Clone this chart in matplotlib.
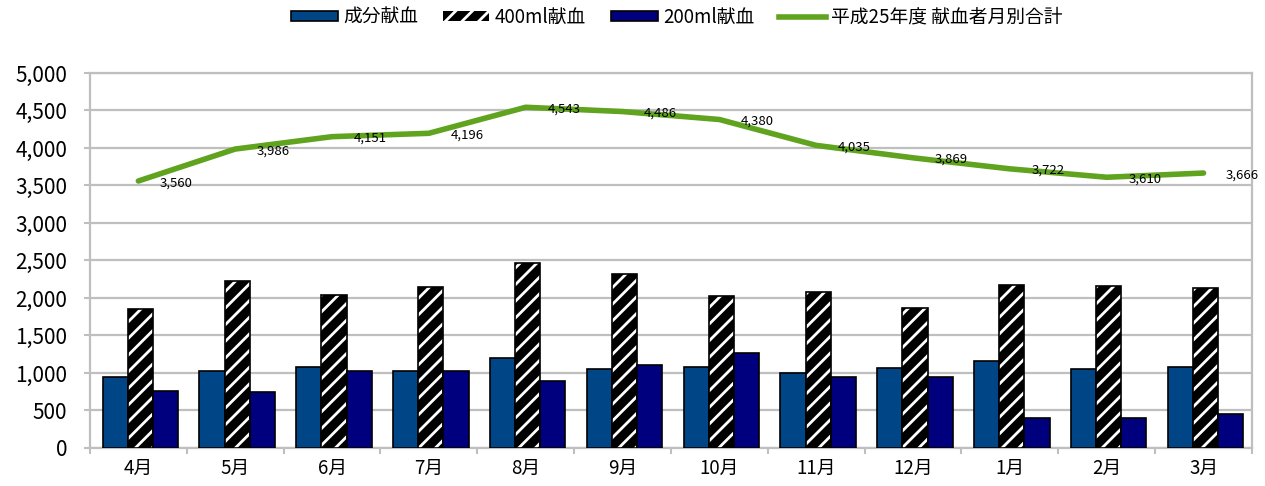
import numpy as np
from matplotlib import pyplot as plt
from matplotlib.patches import Patch
from matplotlib.lines import Line2D

plt.rcParams['font.family'] = ['Noto Sans CJK JP', 'DejaVu Sans']
plt.rcParams['hatch.linewidth'] = 2.0

# monthly blood donors (FY H25)
months = ['4月', '5月', '6月', '7月', '8月', '9月', '10月', '11月', '12月', '1月', '2月', '3月']
component = [947, 1026, 1079, 1026, 1195, 1053, 1079, 1000, 1062, 1159, 1053, 1079]
ml400 = [1847, 2220, 2045, 2144, 2460, 2325, 2032, 2085, 1860, 2167, 2160, 2134]
ml200 = [766, 740, 1027, 1026, 888, 1108, 1269, 950, 947, 396, 397, 453]
total = [3560, 3986, 4151, 4196, 4543, 4486, 4380, 4035, 3869, 3722, 3610, 3666]

c_comp = '#004585'
c_200 = '#00007f'
c_line = '#5fa31f'
c_grid = '#bfbfbf'

f = plt.figure(figsize=(12.65, 4.86), dpi=100)
ax = f.add_axes([0.0711, 0.0782, 0.9186, 0.7716])

x = np.arange(len(months))
w = 0.26
xc = x + 0.02  # groups sit a touch right of the category centre

ax.bar(xc - w, component, w, color=c_comp, edgecolor='black', linewidth=1.2, zorder=3)
# hatched 400ml bars: black fill with white stripes, then black outline on top
ax.bar(xc, ml400, w, color='black', edgecolor='white', hatch='//', linewidth=0, zorder=3)
ax.bar(xc, ml400, w, fill=False, edgecolor='black', linewidth=1.2, zorder=3)
ax.bar(xc + w, ml200, w, color=c_200, edgecolor='black', linewidth=1.2, zorder=3)

ax.plot(x, total, color=c_line, linewidth=4, solid_capstyle='round', zorder=4)
for xi, v in zip(x, total):
    ax.annotate(f'{v:,}', (xi, v), xytext=(27.5, -1.2), textcoords='offset points',
                ha='center', va='center', fontsize=9.5, zorder=5)

ax.set_xlim(-0.5, len(months) - 0.5)
ax.set_ylim(0, 5000)
ax.set_yticks(np.arange(0, 5001, 500))
ax.set_yticklabels([f'{v:,}' for v in range(0, 5001, 500)], fontsize=15)
ax.yaxis.grid(True, color=c_grid, linewidth=1.6, zorder=0)
ax.set_axisbelow(True)

ax.set_xticks(x)
ax.set_xticklabels(months, fontsize=13.5)
ax.set_xticks(np.arange(-0.5, len(months)), minor=True)
ax.tick_params(axis='x', which='major', length=0, pad=7)
ax.tick_params(axis='x', which='minor', length=4.5, color=c_grid, width=1.5)
ax.tick_params(axis='y', length=4.5, color=c_grid, width=1.5, pad=12)

for s in ax.spines.values():
    s.set_color(c_grid)
    s.set_linewidth(1.6)

handles = [
    Patch(facecolor=c_comp, edgecolor='black', linewidth=1.2),
    Patch(facecolor='black', edgecolor='white', hatch='//', linewidth=0),
    Patch(facecolor=c_200, edgecolor='black', linewidth=1.2),
    Line2D([], [], color=c_line, linewidth=4),
]
labels = ['成分献血', '400ml献血', '200ml献血', '平成25年度 献血者月別合計']
f.legend(handles, labels, loc='center', bbox_to_anchor=(0.535, 0.965), ncol=4,
         frameon=False, fontsize=13.5, handlelength=2.5, handleheight=0.45,
         handletextpad=0.3, columnspacing=1.3)

f.savefig('out.png', dpi=100)
